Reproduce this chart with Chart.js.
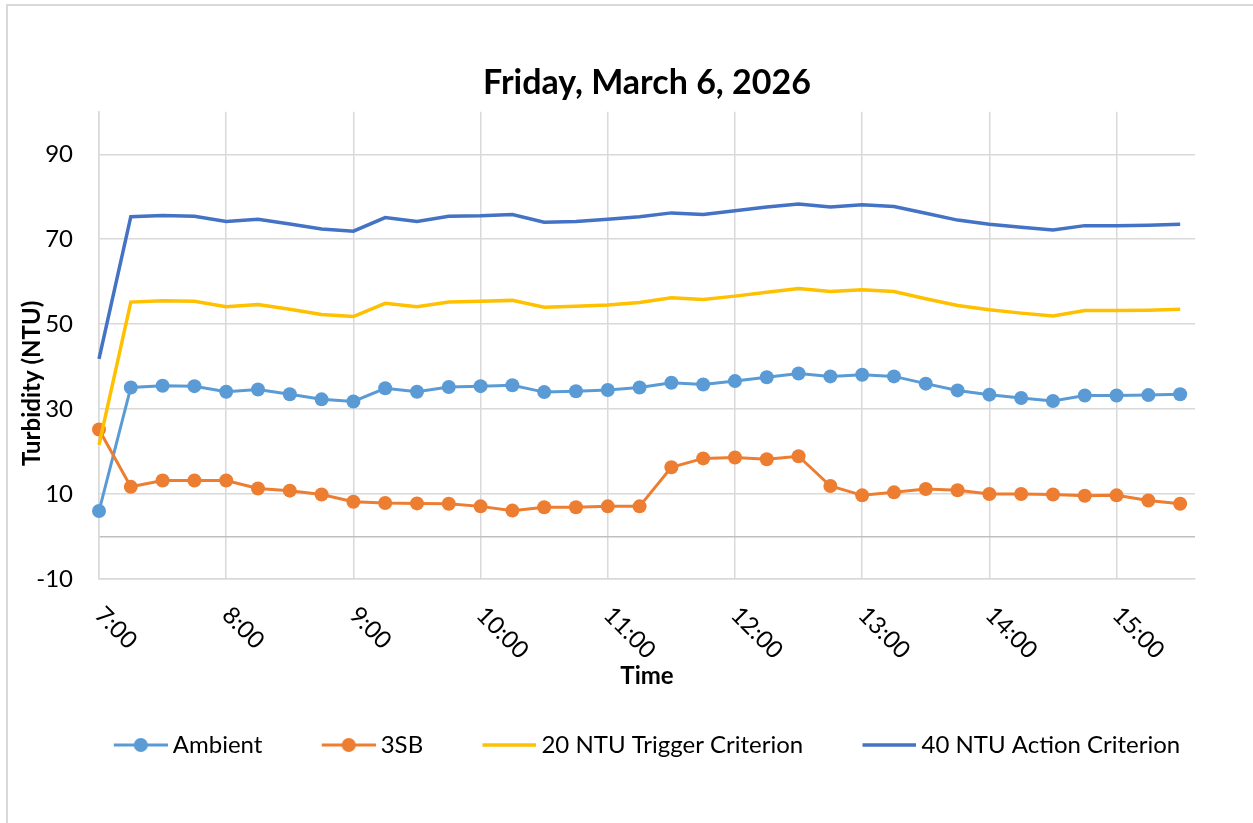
<!DOCTYPE html>
<html>
<head>
<meta charset="utf-8">
<title>Turbidity - Friday, March 6, 2026</title>
<script src="https://cdn.jsdelivr.net/npm/chart.js@4.4.1/dist/chart.umd.min.js"></script>
<style>
    html, body { margin: 0; padding: 0; background: #fff; overflow: hidden; }
    #frame {
        position: absolute; left: 6px; top: 4px;
        width: 1400px; height: 1000px;
        border: 2px solid #d9d9d9; box-sizing: border-box;
    }
    canvas { position: absolute; left: 0; top: 0; }
</style>
</head>
<body>
<div id="frame"></div>
<canvas id="turbidityChart" width="1253" height="823"></canvas>
<script>
// Sample times (15 min steps)
const times = ['7:00', '7:15', '7:30', '7:45', '8:00', '8:15', '8:30', '8:45',
    '9:00', '9:15', '9:30', '9:45', '10:00', '10:15', '10:30', '10:45',
    '11:00', '11:15', '11:30', '11:45', '12:00', '12:15', '12:30', '12:45',
    '13:00', '13:15', '13:30', '13:45', '14:00', '14:15', '14:30', '14:45',
    '15:00', '15:15', '15:30'];

const ambient = [6.0, 35.1, 35.5, 35.4, 34.1, 34.6, 33.5, 32.3,
    31.8, 34.9, 34.1, 35.2, 35.4, 35.6, 34.0, 34.2,
    34.5, 35.1, 36.2, 35.8, 36.6, 37.5, 38.4, 37.7,
    38.1, 37.7, 36.0, 34.4, 33.4, 32.6, 31.9, 33.2,
    33.2, 33.3, 33.5];

const sb3 = [25.2, 11.7, 13.2, 13.2, 13.2, 11.3, 10.8, 9.9,
    8.2, 7.9, 7.8, 7.7, 7.1, 6.1, 6.9, 6.9,
    7.1, 7.1, 16.3, 18.4, 18.6, 18.2, 18.9, 11.9,
    9.7, 10.4, 11.2, 10.9, 10.0, 10.0, 9.9, 9.6,
    9.7, 8.5, 7.7];

const trigger = [21.6, 55.2, 55.5, 55.4, 54.1, 54.6, 53.5, 52.3,
    51.8, 54.9, 54.1, 55.2, 55.4, 55.6, 54.0, 54.2,
    54.5, 55.1, 56.2, 55.8, 56.6, 57.5, 58.4, 57.7,
    58.1, 57.7, 56.0, 54.4, 53.4, 52.6, 51.9, 53.2,
    53.2, 53.3, 53.5];

const action = [41.8, 75.3, 75.6, 75.4, 74.2, 74.7, 73.6, 72.4,
    71.9, 75.1, 74.2, 75.4, 75.5, 75.8, 74.0, 74.2,
    74.7, 75.3, 76.2, 75.8, 76.7, 77.6, 78.3, 77.6,
    78.1, 77.7, 76.1, 74.5, 73.5, 72.8, 72.2, 73.2,
    73.2, 73.3, 73.5];

const hourLabels = ['7:00', '8:00', '9:00', '10:00', '11:00', '12:00', '13:00', '14:00', '15:00'];
const yTicks = [-10, 0, 10, 30, 50, 70, 90];

const FONT = 'Lato';

function toMinutes(t) {
    const parts = t.split(':');
    return parseInt(parts[0]) * 60 + parseInt(parts[1]);
}

function points(values) {
    return times.map((t, i) => ({ x: toMinutes(t), y: values[i] }));
}

// legend icons: line, optionally with a marker
function legendIcon(color, marker) {
    const c = document.createElement('canvas');
    c.width = 61;
    c.height = 18;
    const g = c.getContext('2d');
    g.strokeStyle = color;
    g.lineWidth = marker ? 3 : 3.5;
    g.beginPath();
    g.moveTo(7, 9);
    g.lineTo(61, 9);
    g.stroke();
    if (marker) {
        g.fillStyle = color;
        g.beginPath();
        g.arc(34, 9, 7, 0, Math.PI * 2);
        g.fill();
    }
    return c;
}

const colors = ['#5b9bd5', '#ed7d31', '#ffc000', '#4472c4'];
const icons = [
    legendIcon(colors[0], true),
    legendIcon(colors[1], true),
    legendIcon(colors[2], false),
    legendIcon(colors[3], false)
];

const measure = document.createElement('canvas').getContext('2d');
measure.font = '24px ' + FONT;
const spaceWidth = measure.measureText(' ').width;
const legendGap = ' '.repeat(Math.round(58 / spaceWidth));

// rotated time labels and the y title
const axisText = {
    id: 'axisText',
    afterDraw(chart) {
        const { ctx, chartArea } = chart;
        const xScale = chart.scales.x;
        ctx.save();
        ctx.fillStyle = '#000';
        ctx.font = '24px ' + FONT;
        ctx.textAlign = 'left';
        ctx.textBaseline = 'middle';
        xScale.ticks.forEach((tick, i) => {
            ctx.save();
            ctx.translate(xScale.getPixelForValue(tick.value), chartArea.bottom + 32);
            ctx.rotate(Math.PI / 4);
            ctx.fillText(hourLabels[i], 0, 0);
            ctx.restore();
        });

        ctx.font = 'bold 24px ' + FONT;
        ctx.textAlign = 'center';
        ctx.translate(32, (chartArea.top + chartArea.bottom + 76) / 2);
        ctx.rotate(-Math.PI / 2);
        ctx.fillText('Turbidity (NTU)', 0, 0);
        ctx.restore();
    }
};

const ctx = document.getElementById('turbidityChart').getContext('2d');

new Chart(ctx, {
    type: 'line',
    data: {
        datasets: [{
            label: 'Ambient',
            data: points(ambient),
            borderColor: colors[0],
            backgroundColor: colors[0],
            borderWidth: 3,
            pointRadius: 7,
            pointBorderWidth: 0,
            pointBackgroundColor: colors[0],
            order: 3,
            clip: false
        }, {
            label: '3SB',
            data: points(sb3),
            borderColor: colors[1],
            backgroundColor: colors[1],
            borderWidth: 3,
            pointRadius: 7,
            pointBorderWidth: 0,
            pointBackgroundColor: colors[1],
            order: 2,
            clip: false
        }, {
            label: '20 NTU Trigger Criterion',
            data: points(trigger),
            borderColor: colors[2],
            backgroundColor: colors[2],
            borderWidth: 3.5,
            pointRadius: 0,
            order: 1,
            clip: false
        }, {
            label: '40 NTU Action Criterion',
            data: points(action),
            borderColor: colors[3],
            backgroundColor: colors[3],
            borderWidth: 3.5,
            pointRadius: 0,
            order: 0,
            clip: false
        }]
    },
    options: {
        responsive: false,
        animation: false,
        devicePixelRatio: 1,
        events: [],
        layout: {
            padding: { left: 8, right: 58, top: 0, bottom: 56 }
        },
        plugins: {
            title: {
                display: true,
                text: 'Friday, March 6, 2026',
                color: '#000',
                fullSize: false,
                font: { family: FONT, size: 34, weight: 'bold' },
                padding: { top: 63, bottom: 8 }
            },
            legend: {
                display: true,
                position: 'bottom',
                fullSize: false,
                labels: {
                    usePointStyle: true,
                    pointStyleWidth: 47,
                    padding: 4,
                    color: '#000',
                    font: { family: FONT, size: 24 },
                    sort: (a, b) => a.datasetIndex - b.datasetIndex,
                    generateLabels: chart => {
                        const items = Chart.defaults.plugins.legend.labels.generateLabels(chart);
                        items.forEach(item => {
                            item.pointStyle = icons[item.datasetIndex];
                            if (item.datasetIndex < 3) {
                                item.text = item.text + legendGap;
                            }
                        });
                        return items;
                    }
                }
            },
            tooltip: { enabled: false }
        },
        scales: {
            x: {
                type: 'linear',
                min: toMinutes(hourLabels[0]),
                max: 937,
                afterBuildTicks: scale => {
                    scale.ticks = hourLabels.map(h => ({ value: toMinutes(h) }));
                },
                afterFit: scale => {
                    scale.height = 150;
                },
                ticks: { display: false },
                grid: { color: '#d9d9d9', lineWidth: 1.5, drawTicks: false },
                border: { color: '#d9d9d9', width: 1.5 },
                title: {
                    display: true,
                    text: 'Time',
                    color: '#000',
                    font: { family: FONT, size: 24, weight: 'bold' },
                    padding: { top: 0, bottom: 38 }
                }
            },
            y: {
                min: -10,
                max: 100,
                afterBuildTicks: scale => {
                    scale.ticks = yTicks.map(v => ({ value: v }));
                },
                afterFit: scale => {
                    scale.width = 91;
                },
                ticks: {
                    color: '#000',
                    padding: 26,
                    font: { family: FONT, size: 24 },
                    callback: value => value === 0 ? '' : value
                },
                grid: {
                    color: c => (c.tick && c.tick.value === 0) ? '#bfbfbf' : '#d9d9d9',
                    lineWidth: 1.5,
                    drawTicks: false
                },
                border: { color: '#d9d9d9', width: 1.5 },
                title: { display: false }
            }
        }
    },
    plugins: [axisText]
});
</script>
</body>
</html>
